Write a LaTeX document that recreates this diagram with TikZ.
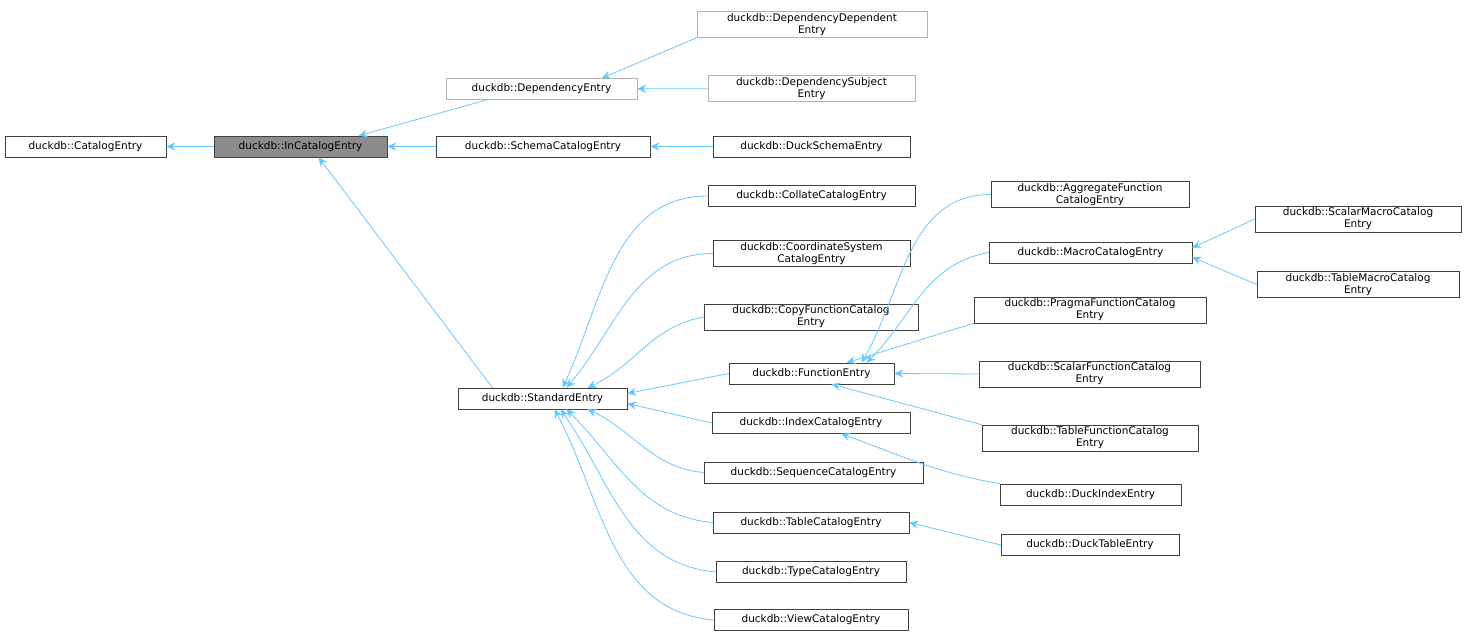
\documentclass[tikz,border=0pt]{standalone}
\usepackage{fontspec}
\setmainfont{DejaVu Sans}
\usetikzlibrary{calc,arrows.meta}
\begin{document}
\begin{tikzpicture}[x=1pt,y=-1pt,
  cls/.style={draw=black!75,fill=white,font=\fontsize{10.5}{12}\selectfont,align=center,inner sep=2pt,minimum height=21pt},
  grey/.style={cls,draw=black!30},
  inh/.style={draw=blue!35!cyan!60,line width=0.8pt,{Stealth[length=9pt,width=8pt]}-}]
\useasboundingbox (0,0) rectangle (1467,639);
% nodes
\node[cls,minimum width=161] (cat) at (85.5,146.5) {duckdb::CatalogEntry};
\node[cls,fill=black!45,minimum width=173] (incat) at (300.5,146.5) {duckdb::InCatalogEntry};
\node[grey,minimum width=191] (dep) at (541.5,89) {duckdb::DependencyEntry};
\node[grey,minimum width=230] (depdep) at (812,24.5) {duckdb::DependencyDependent\\Entry};
\node[grey,minimum width=207] (depsub) at (811.5,88.5) {duckdb::DependencySubject\\Entry};
\node[cls,minimum width=214] (schema) at (543,146.5) {duckdb::SchemaCatalogEntry};
\node[cls,minimum width=197] (duckschema) at (811.5,146.5) {duckdb::DuckSchemaEntry};
\node[cls,minimum width=169] (std) at (542.5,398.5) {duckdb::StandardEntry};
\node[cls,minimum width=207] (collate) at (811.5,196) {duckdb::CollateCatalogEntry};
\node[cls,minimum width=197] (coord) at (811.5,253.5) {duckdb::CoordinateSystem\\CatalogEntry};
\node[cls,minimum width=214] (copy) at (811,317) {duckdb::CopyFunctionCatalog\\Entry};
\node[cls,minimum width=165] (func) at (811.5,373.5) {duckdb::FunctionEntry};
\node[cls,minimum width=198] (index) at (811,423) {duckdb::IndexCatalogEntry};
\node[cls,minimum width=219] (seq) at (813.5,472.5) {duckdb::SequenceCatalogEntry};
\node[cls,minimum width=196] (table) at (811,522.5) {duckdb::TableCatalogEntry};
\node[cls,minimum width=190] (type) at (811,572) {duckdb::TypeCatalogEntry};
\node[cls,minimum width=194] (view) at (811,620) {duckdb::ViewCatalogEntry};
\node[cls,minimum width=198] (aggr) at (1090,194.5) {duckdb::AggregateFunction\\CatalogEntry};
\node[cls,minimum width=203] (macro) at (1090.5,252.5) {duckdb::MacroCatalogEntry};
\node[cls,minimum width=232] (pragma) at (1090,310) {duckdb::PragmaFunctionCatalog\\Entry};
\node[cls,minimum width=221] (scalarfn) at (1089.5,374) {duckdb::ScalarFunctionCatalog\\Entry};
\node[cls,minimum width=216] (tablefn) at (1090,438) {duckdb::TableFunctionCatalog\\Entry};
\node[cls,minimum width=181] (duckidx) at (1090.5,494.5) {duckdb::DuckIndexEntry};
\node[cls,minimum width=178] (ducktab) at (1090,545) {duckdb::DuckTableEntry};
\node[cls,minimum width=206] (scalarmac) at (1358,219) {duckdb::ScalarMacroCatalog\\Entry};
\node[cls,minimum width=202] (tablemac) at (1358,284.5) {duckdb::TableMacroCatalog\\Entry};
% inheritance edges
\draw[inh] (cat) -- (incat);
\draw[inh] ($(incat.north)+(58,0)$) -- ($(dep.south)-(54,0)$);
\draw[inh] (incat) -- (schema);
\draw[inh] ($(incat.south)+(18,0)$) -- ($(std.north)-(50,0)$);
\draw[inh] ($(dep.north)+(60,0)$) -- (depdep.south west);
\draw[inh] (dep) -- (depsub);
\draw[inh] (schema) -- (duckschema);
\draw[inh] ($(std.north)+(20,0)$) to[out=65,in=180] (collate.west);
\draw[inh] ($(std.north)+(24,0)$) to[out=50,in=180] (coord.west);
\draw[inh] ($(std.north)+(45,0)$) to[out=25,in=190] (copy.west);
\draw[inh] (std.east) ++(0,-5) -- (func.west);
\draw[inh] (std.east) ++(0,5) -- (index.west);
\draw[inh] ($(std.south)+(45,0)$) to[out=-25,in=175] (seq.west);
\draw[inh] ($(std.south)+(24,0)$) to[out=-45,in=175] (table.west);
\draw[inh] ($(std.south)+(18,0)$) to[out=-55,in=175] (type.west);
\draw[inh] ($(std.south)+(12,0)$) to[out=-62,in=175] (view.west);
\draw[inh] ($(func.north)+(50,0)$) to[out=60,in=180] (aggr.west);
\draw[inh] ($(func.north)+(55,0)$) to[out=45,in=190] (macro.west);
\draw[inh] ($(func.north)+(35,0)$) -- (pragma.south west);
\draw[inh] (func.east) -- (scalarfn.west);
\draw[inh] ($(func.south)+(20,0)$) -- (tablefn.north west);
\draw[inh] ($(index.south)+(30,0)$) to[out=-20,in=170] (duckidx.north west);
\draw[inh] (table.east) -- (ducktab.west);
\draw[inh] ($(macro.north east)+(0,6)$) -- (scalarmac.west);
\draw[inh] ($(macro.south east)-(0,6)$) -- (tablemac.west);
\end{tikzpicture}
\end{document}
